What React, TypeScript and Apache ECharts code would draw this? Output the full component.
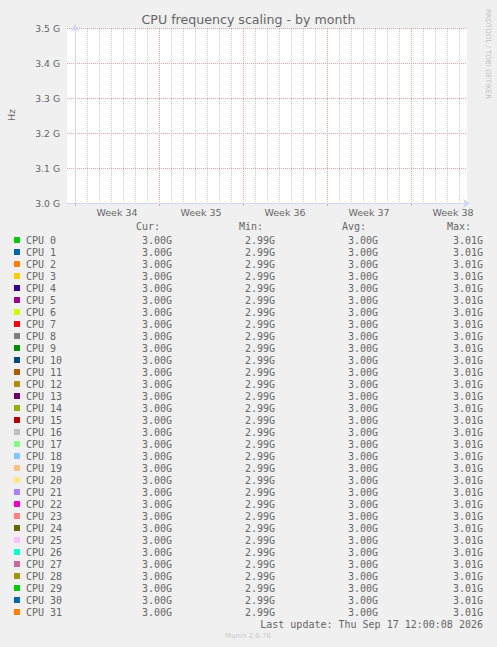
import { useEffect, useRef } from "react";
import * as echarts from "echarts";

// Munin's default colour list, cycled for the CPUs
const muninPalette = [
  "#00CC00", "#0066B3", "#FF8000", "#FFCC00", "#330099", "#990099", "#CCFF00", "#FF0000", "#808080",
  "#008F00", "#00487D", "#B35A00", "#B38F00", "#6B006B", "#8FB300", "#B30000", "#BEBEBE",
  "#80FF80", "#80C9FF", "#FFC080", "#FFE680", "#AA80FF", "#EE00CC", "#FF8080",
  "#666600", "#FFBFFF", "#00FFCC", "#CC6699", "#999900",
];

const cpuNames = Array.from({ length: 32 }, (_, i) => `CPU ${i}`);

// legend stats in GHz
const curGHz = [
  3.0, 3.0, 3.0, 3.0, 3.0, 3.0, 3.0, 3.0, 3.0, 3.0, 3.0, 3.0, 3.0, 3.0, 3.0, 3.0,
  3.0, 3.0, 3.0, 3.0, 3.0, 3.0, 3.0, 3.0, 3.0, 3.0, 3.0, 3.0, 3.0, 3.0, 3.0, 3.0,
];
const minGHz = [
  2.99, 2.99, 2.99, 2.99, 2.99, 2.99, 2.99, 2.99, 2.99, 2.99, 2.99, 2.99, 2.99, 2.99, 2.99, 2.99,
  2.99, 2.99, 2.99, 2.99, 2.99, 2.99, 2.99, 2.99, 2.99, 2.99, 2.99, 2.99, 2.99, 2.99, 2.99, 2.99,
];
const avgGHz = [
  3.0, 3.0, 3.0, 3.0, 3.0, 3.0, 3.0, 3.0, 3.0, 3.0, 3.0, 3.0, 3.0, 3.0, 3.0, 3.0,
  3.0, 3.0, 3.0, 3.0, 3.0, 3.0, 3.0, 3.0, 3.0, 3.0, 3.0, 3.0, 3.0, 3.0, 3.0, 3.0,
];
const maxGHz = [
  3.01, 3.01, 3.01, 3.01, 3.01, 3.01, 3.01, 3.01, 3.01, 3.01, 3.01, 3.01, 3.01, 3.01, 3.01, 3.01,
  3.01, 3.01, 3.01, 3.01, 3.01, 3.01, 3.01, 3.01, 3.01, 3.01, 3.01, 3.01, 3.01, 3.01, 3.01, 3.01,
];

// plotted trace (hours since Mon of week 34), all CPUs sit on 3.00 GHz
const traceHours = [-16, 152, 320, 488, 656, 756];
const traceGHz = [3.0, 3.0, 3.0, 3.0, 3.0, 3.0];

const weekLabels = ["Week 34", "Week 35", "Week 36", "Week 37", "Week 38"];
const statHeaders = ["Cur:", "Min:", "Avg:", "Max:"];
const statColumns = [curGHz, minGHz, avgGHz, maxGHz];

const TITLE = "CPU frequency scaling - by month";
const LAST_UPDATE = "Last update: Thu Sep 17 12:00:08 2026";

const FONT_COLOR = "#666666";
const AXIS_COLOR = "#CFD6F8";
const MAJOR_GRID = "#E6A0A0";
const MINOR_GRID = "#C8C8C8";

export default function App() {
  const chartRef = useRef<HTMLDivElement>(null);

  useEffect(() => {
    if (!chartRef.current) return;
    const chart = echarts.init(chartRef.current, null, { renderer: "svg" });

    const startH = -16;
    const endH = 784;
    const plotLeft = 67;
    const plotTop = 28.5; // half pixel so the 3.0 G traces sit under the axis line
    const plotW = 400;
    const plotH = 175;
    const pxPerHour = plotW / (endH - startH);
    const dayLeft = plotLeft + (0 - startH) * pxPerHour;
    const labelLeft = plotLeft + (84 - startH) * pxPerHour;

    const colRight = [172, 275, 378, 483];
    const rowY0 = 240;
    const rowH = 12;
    const mono = '10px "DejaVu Sans Mono"';

    const txt = (x: number, y: number, text: string, font: string, fill: string, align: string, extra: any = {}) => ({
      type: "text",
      x,
      y,
      silent: true,
      ...extra,
      style: { text, font, fill, align, verticalAlign: "middle", textAlign: align, textVerticalAlign: "middle" },
    });

    const graphic: any[] = [];
    statHeaders.forEach((h, c) => {
      graphic.push(txt(colRight[c] - 12, rowY0 - 14, h, mono, FONT_COLOR, "right"));
    });
    statColumns.forEach((col, c) => {
      col.forEach((v, r) => {
        graphic.push(txt(colRight[c], rowY0 + r * rowH, `${v.toFixed(2)}G`, mono, FONT_COLOR, "right"));
      });
    });
    graphic.push(txt(483, rowY0 + cpuNames.length * rowH, LAST_UPDATE, mono, FONT_COLOR, "right"));
    graphic.push(txt(248, 636, "Munin 2.0.76", '7px "DejaVu Sans"', "#C8C8C8", "center"));
    graphic.push(txt(488, 54, "RRDTOOL / TOBI OETIKER", '7px "DejaVu Sans"', "#C4C4C4", "center", { rotation: -Math.PI / 2 }));
    graphic.push(txt(11, 115, "Hz", '9.5px "DejaVu Sans"', FONT_COLOR, "center", { rotation: Math.PI / 2 }));

    const hiddenY = (i: number) => ({ type: "value", gridIndex: i, show: false, min: 0, max: 1 });
    const lineGrid = { top: 29, height: 174, containLabel: false, outerBoundsMode: "none" };

    chart.setOption({
      animation: false,
      backgroundColor: "#F0F0F0",
      title: {
        text: TITLE,
        left: "center",
        top: 12,
        padding: 0,
        textStyle: { fontFamily: "DejaVu Sans", fontSize: 12.6, fontWeight: "normal", color: FONT_COLOR, lineHeight: 14 },
      },
      legend: {
        orient: "vertical",
        left: 14,
        top: rowY0 - rowH / 2,
        padding: 0,
        itemGap: 0,
        itemWidth: 6,
        itemHeight: 6,
        icon: "rect",
        selectedMode: false,
        itemStyle: { borderWidth: 0 },
        textStyle: { fontFamily: "DejaVu Sans Mono", fontSize: 10, color: FONT_COLOR, lineHeight: rowH, padding: [0, 0, 0, 1] },
        data: cpuNames,
      },
      grid: [
        {
          left: plotLeft,
          top: plotTop,
          width: plotW,
          height: plotH,
          containLabel: false,
          outerBoundsMode: "none",
          show: true,
          backgroundColor: "#FFFFFF",
          borderWidth: 0,
        },
        { ...lineGrid, left: dayLeft, width: 768 * pxPerHour },
        { ...lineGrid, left: dayLeft, width: 672 * pxPerHour },
        { ...lineGrid, left: labelLeft, width: 672 * pxPerHour },
      ],
      xAxis: [
        {
          type: "value",
          gridIndex: 0,
          min: startH,
          max: endH,
          z: 5,
          axisLine: { show: true, symbol: ["none", "arrow"], symbolSize: [7, 7], symbolOffset: [0, 3], lineStyle: { color: AXIS_COLOR, width: 1 } },
          axisTick: { show: false },
          axisLabel: { show: false },
          splitLine: { show: false },
        },
        {
          type: "value",
          gridIndex: 1,
          min: 0,
          max: 768,
          interval: 24,
          z: 1,
          axisLine: { show: false },
          axisTick: { show: false },
          axisLabel: { show: false },
          splitLine: { show: true, lineStyle: { color: MINOR_GRID, type: [1, 1], width: 1 } },
        },
        {
          type: "value",
          gridIndex: 2,
          min: 0,
          max: 672,
          interval: 168,
          z: 2,
          axisLine: { show: false },
          axisTick: { show: true, length: 3, lineStyle: { color: MAJOR_GRID } },
          axisLabel: { show: false },
          splitLine: { show: true, lineStyle: { color: MAJOR_GRID, type: [1, 1], width: 1 } },
        },
        {
          type: "value",
          gridIndex: 3,
          min: 0,
          max: 672,
          interval: 168,
          axisLine: { show: false },
          axisTick: { show: false },
          splitLine: { show: false },
          axisLabel: {
            show: true,
            margin: 4,
            color: FONT_COLOR,
            fontFamily: "DejaVu Sans",
            fontSize: 9.5,
            showMinLabel: true,
            showMaxLabel: true,
            formatter: (v: number) => (v % 168 === 0 ? weekLabels[v / 168] ?? "" : ""),
          },
        },
      ],
      yAxis: [
        {
          type: "value",
          gridIndex: 0,
          min: 3.0,
          max: 3.5,
          interval: 0.1,
          z: 5,
          axisLine: { show: true, symbol: ["none", "arrow"], symbolSize: [7, 7], symbolOffset: [0, 4], lineStyle: { color: AXIS_COLOR, width: 1 } },
          axisTick: { show: false },
          axisLabel: {
            color: FONT_COLOR,
            fontFamily: "DejaVu Sans",
            fontSize: 9.2,
            margin: 7,
            formatter: (v: number) => `${v.toFixed(1)} G`,
          },
          splitLine: { show: true, showMinLine: false, lineStyle: { color: MAJOR_GRID, type: [1, 1], width: 1 } },
        },
        hiddenY(1),
        hiddenY(2),
        hiddenY(3),
      ],
      series: cpuNames.map((name, i) => ({
        name,
        type: "line",
        xAxisIndex: 0,
        yAxisIndex: 0,
        showSymbol: false,
        silent: true,
        clip: true,
        color: muninPalette[i % muninPalette.length],
        lineStyle: { width: 1 },
        data: traceHours.map((h, k) => [h, traceGHz[k]]),
      })),
      graphic,
    });

    return () => {
      chart.dispose();
    };
  }, []);

  return (
    <div
      ref={chartRef}
      style={{ position: "absolute", left: 0, top: 0, width: 497, height: 647 }}
    />
  );
}
